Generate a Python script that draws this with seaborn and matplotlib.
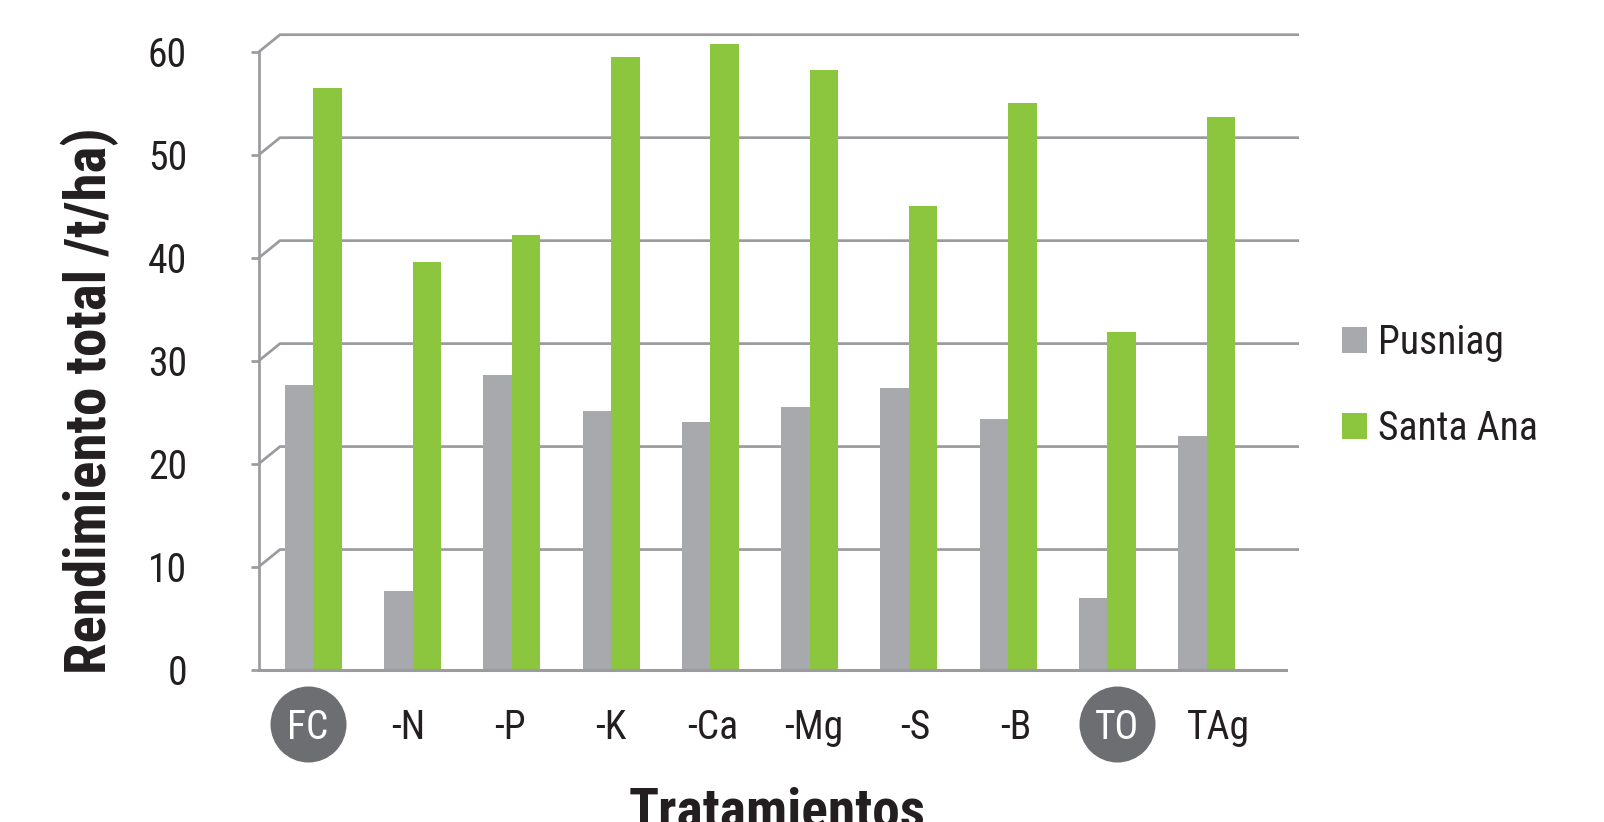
import numpy as np
import pandas as pd
import matplotlib
matplotlib.use("Agg")
import matplotlib.pyplot as plt
import matplotlib.font_manager as fm
from matplotlib.transforms import ScaledTranslation
import seaborn as sns

# ---- data -------------------------------------------------------------
categories = ["FC", "-N", "-P", "-K", "-Ca", "-Mg", "-S", "-B", "TO", "TAg"]
highlighted = ["FC", "TO"]
series_names = ["Pusniag", "Santa Ana"]
pusniag = [27.6, 7.6, 28.6, 25.1, 24.0, 25.5, 27.3, 24.3, 6.9, 22.7]
santa_ana = [56.5, 39.6, 42.2, 59.5, 60.7, 58.2, 45.0, 55.0, 32.8, 53.7]
y_ticks = [0, 10, 20, 30, 40, 50, 60]
y_title = "Rendimiento total /t/ha)"
x_title = "Tratamientos"

# ---- style ------------------------------------------------------------
GRAY_BAR = "#a7a9ac"
GREEN_BAR = "#8cc63f"
GRID = "#9b9b9f"
TEXT = "#231f20"
BADGE = "#6d6e71"

sns.set_style("white")
available = {f.name for f in fm.fontManager.ttflist}
family = next((f for f in ["Liberation Sans Narrow", "DejaVu Sans Condensed",
                           "Roboto Condensed", "Liberation Sans"] if f in available),
              "DejaVu Sans")
plt.rcParams["font.family"] = [family, "DejaVu Sans"]
plt.rcParams["text.color"] = TEXT

df = pd.DataFrame({
    "Tratamiento": categories * 2,
    "Localidad": [series_names[0]] * len(categories) + [series_names[1]] * len(categories),
    "Rendimiento": pusniag + santa_ana,
})

DPI = 100
fig = plt.figure(figsize=(16.04, 8.22), dpi=DPI)
W, H = 1604, 822

# value axis: 0 sits at y=669.5 px, 60 at y=51.7 px
y0_px, y60_px = 669.5, 51.7
px_per_y = (y0_px - y60_px) / 60
ymax = 63
ax_left, ax_right = 259, 1286
ax_bottom = y0_px
ax_top = y0_px - ymax * px_per_y
ax = fig.add_axes([ax_left / W, 1 - ax_bottom / H,
                   (ax_right - ax_left) / W, (ax_bottom - ax_top) / H])

sns.barplot(data=df, x="Tratamiento", y="Rendimiento", hue="Localidad",
            palette=[GRAY_BAR, GREEN_BAR], width=0.575, linewidth=0,
            saturation=1, ax=ax, zorder=3)

xmin, xmax = -0.549, 9.80
ax.set_xlim(xmin, xmax)
ax.set_ylim(0, ymax)

# receding back wall: gridlines shifted up and to the right
px_per_x = (ax_right - ax_left) / (xmax - xmin)
depth_dx = 21 / px_per_x
depth_dy = 17 / px_per_y
back_end = xmin + (1299 - ax_left) / px_per_x

for v in y_ticks[1:]:
    ax.plot([xmin, xmin + depth_dx, back_end], [v, v + depth_dy, v + depth_dy],
            color=GRID, lw=1.95, solid_capstyle="butt", solid_joinstyle="miter",
            clip_on=False, zorder=1)

# axes frame: left and floor lines
for side in ["top", "right"]:
    ax.spines[side].set_visible(False)
ax.spines["left"].set_color(GRID)
ax.spines["left"].set_linewidth(1.95)
ax.spines["left"].set_bounds(0, 60)
ax.spines["bottom"].set_color(GRID)
ax.spines["bottom"].set_linewidth(2.2)
ax.spines["bottom"].set_zorder(4)

ax.set_yticks(y_ticks)
ax.set_yticklabels([str(t) for t in y_ticks])
ax.tick_params(axis="y", length=5.8, width=1.95, color=GRID, pad=46,
               labelsize=28.5, labelcolor=TEXT, left=True, direction="out")

# category labels, two of them shown inside dark badges
ax.set_xticks([])
label_pos = [i * 1.02 - 0.06 for i in range(len(categories))]
text_tr = ax.transData + ScaledTranslation(0, -69 / DPI, fig.dpi_scale_trans)
badge_tr = ax.transData + ScaledTranslation(0, -54.5 / DPI, fig.dpi_scale_trans)
for x, lab in zip(label_pos, categories):
    is_badge = lab in highlighted
    if is_badge:
        ax.plot([x], [0], marker="o", ms=76 * 72 / DPI, mfc=BADGE, mec="none",
                ls="none", transform=badge_tr, clip_on=False, zorder=5)
    ax.text(x, 0, lab, transform=text_tr, ha="center", va="baseline",
            fontsize=28.5, color="white" if is_badge else TEXT,
            clip_on=False, zorder=6)

# axis titles
ax.set_ylabel(y_title, fontsize=41, fontweight="bold", color=TEXT, va="baseline")
ax.yaxis.set_label_coords((106 - ax_left) / (ax_right - ax_left),
                          (ax_bottom - 401) / (ax_bottom - ax_top))
ax.set_xlabel(x_title, fontsize=40, fontweight="bold", color=TEXT, va="baseline")
ax.xaxis.set_label_coords((777 - ax_left) / (ax_right - ax_left),
                          -(827 - ax_bottom) / (ax_bottom - ax_top))

# legend
handles, labels = ax.get_legend_handles_labels()
ax.legend(handles, labels, loc="upper left",
          bbox_to_anchor=(1342 / W, 1 - 323 / H), bbox_transform=fig.transFigure,
          frameon=False, fontsize=28.5, handlelength=0.63, handleheight=0.63,
          handletextpad=0.28, labelspacing=1.18, borderpad=0, borderaxespad=0)

fig.savefig("out.png", dpi=DPI)
